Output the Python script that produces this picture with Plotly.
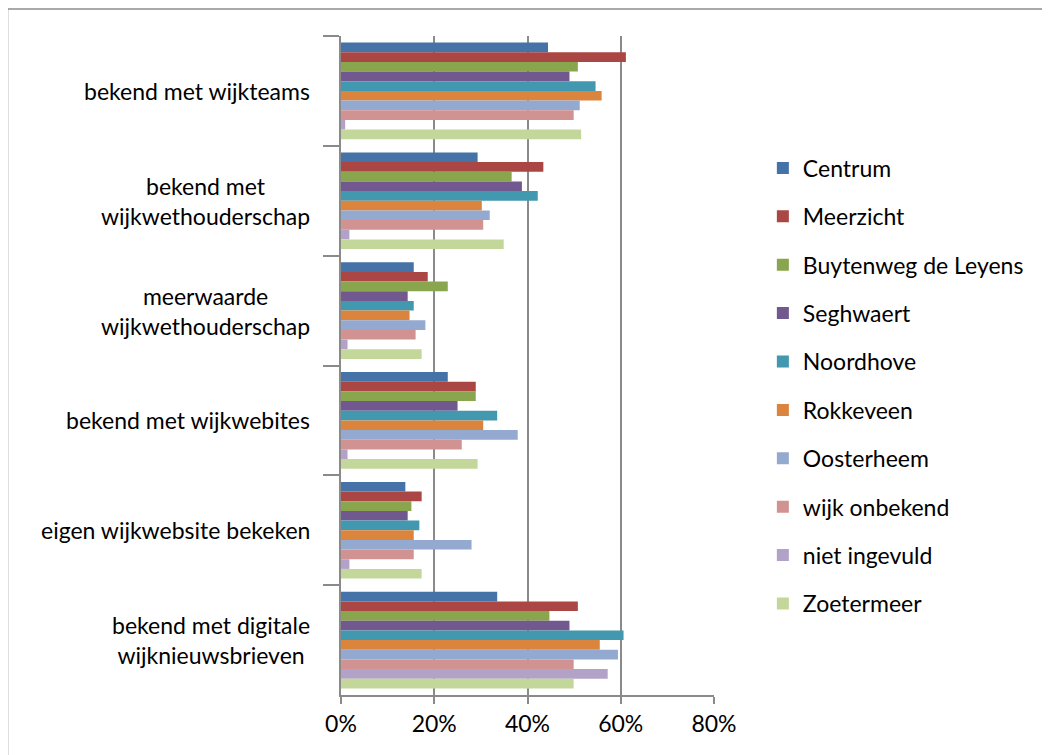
import plotly.graph_objects as go

# ----------------- данные -----------------
categories = [
    "bekend met wijkteams",
    "bekend met<br>wijkwethouderschap",
    "meerwaarde<br>wijkwethouderschap",
    "bekend met wijkwebites",
    "eigen wijkwebsite bekeken",
    "bekend met digitale<br>wijknieuwsbrieven",
]

wijken = ["Centrum", "Meerzicht", "Buytenweg de Leyens", "Seghwaert", "Noordhove",
          "Rokkeveen", "Oosterheem", "wijk onbekend", "niet ingevuld", "Zoetermeer"]

centrum = [44.4, 29.3, 15.6, 22.9, 13.8, 33.5]
meerzicht = [61.1, 43.4, 18.6, 28.9, 17.3, 50.8]
buytenweg = [50.8, 36.6, 22.9, 28.9, 15.1, 44.7]
seghwaert = [49.0, 38.8, 14.3, 25.0, 14.3, 49.0]
noordhove = [54.6, 42.2, 15.6, 33.5, 16.8, 60.6]
rokkeveen = [55.9, 30.2, 14.7, 30.5, 15.6, 55.5]
oosterheem = [51.2, 31.9, 18.1, 37.9, 28.0, 59.4]
wijk_onbekend = [49.9, 30.5, 16.0, 25.9, 15.6, 49.9]
niet_ingevuld = [0.9, 1.8, 1.4, 1.4, 1.8, 57.2]
zoetermeer = [51.5, 34.9, 17.3, 29.3, 17.3, 49.9]

series = [centrum, meerzicht, buytenweg, seghwaert, noordhove,
          rokkeveen, oosterheem, wijk_onbekend, niet_ingevuld, zoetermeer]

colors = ["#4572A7", "#AA4643", "#89A54E", "#71588F", "#4198AF",
          "#DB843D", "#93A9CF", "#D19392", "#B3A2C7", "#C4D79B"]

x_ticks = [0, 20, 40, 60, 80]
x_ticktext = ["0%", "20%", "40%", "60%", "80%"]

FONT = "Lato, 'Open Sans', sans-serif"
FS = 23
GRID = "#8a8a8a"

# ----------------- график -----------------
fig = go.Figure()
for name, vals, col in zip(wijken, series, colors):
    fig.add_trace(go.Bar(
        y=categories, x=vals, name=name, orientation="h",
        marker=dict(color=col, line=dict(width=0)),
        legendgroup=name))

# подписи категорий (по центру, несколько строк)
for cat in categories:
    fig.add_annotation(
        x=-0.078, xref="paper", y=cat, yref="y",
        text=cat, showarrow=False, xanchor="right", yanchor="middle",
        align="center", font=dict(family=FONT, size=FS, color="black"))

# рамка диаграммы (видны только левая и верхняя стороны)
fig.add_shape(type="line", xref="paper", yref="paper",
              x0=-0.894, x1=-0.894, y0=-0.2, y1=1.041,
              line=dict(color="#8c8c8c", width=1.5), layer="below")
fig.add_shape(type="line", xref="paper", yref="paper",
              x0=-0.894, x1=2.5, y0=1.041, y1=1.041,
              line=dict(color="#8c8c8c", width=1.5), layer="below")

fig.update_layout(
    width=1050, height=755,
    margin=dict(l=333, r=344, t=28, b=68),
    paper_bgcolor="white", plot_bgcolor="white",
    barmode="group", bargap=0.12, bargroupgap=0,
    font=dict(family=FONT, size=FS, color="black"),
    showlegend=True,
    legend=dict(x=1.131, xanchor="left", y=0.469, yanchor="middle",
                tracegroupgap=15.5, traceorder="grouped",
                font=dict(family=FONT, size=FS, color="black"),
                bgcolor="rgba(0,0,0,0)"),
    xaxis=dict(range=[0, 80], tickvals=x_ticks, ticktext=x_ticktext,
               showgrid=True, gridcolor=GRID, gridwidth=2,
               zeroline=False, showline=True, linecolor=GRID, linewidth=2,
               ticks="outside", ticklen=7, tickcolor=GRID, tickwidth=2,
               tickfont=dict(family=FONT, size=FS, color="black")),
    yaxis=dict(autorange="reversed", showticklabels=False,
               tickson="boundaries", ticks="outside", ticklen=16,
               tickcolor=GRID, tickwidth=2,
               showline=True, linecolor=GRID, linewidth=2,
               showgrid=False, zeroline=False),
)

fig.write_html("out.html")
